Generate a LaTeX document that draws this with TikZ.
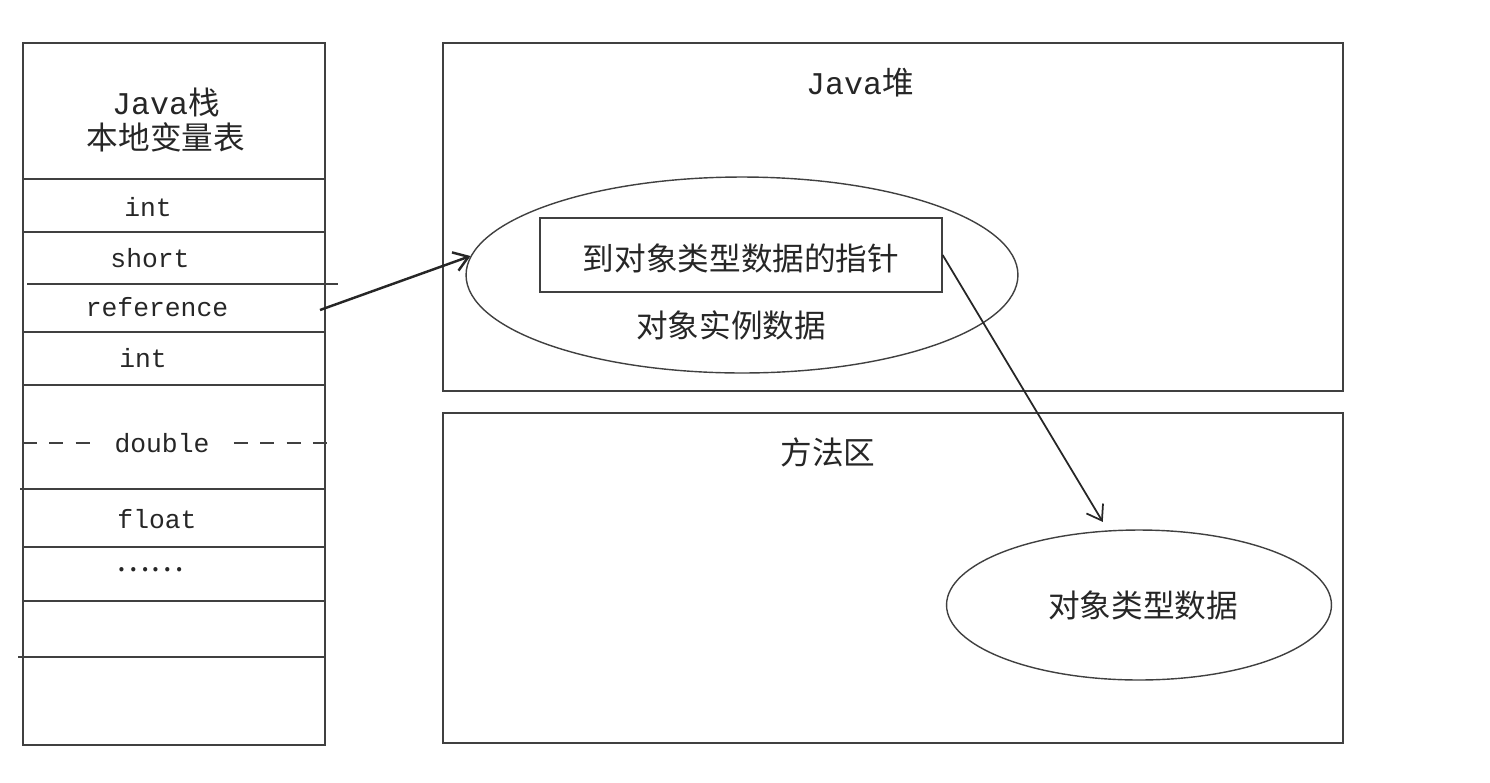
\documentclass[tikz,border=0pt]{standalone}
\usepackage{fontspec}
\setmainfont{Noto Sans CJK SC}
\setmonofont{Liberation Mono}
\usetikzlibrary{shapes.geometric}
\usetikzlibrary{arrows.meta}
\tikzset{
  frame/.style = {draw = black!75, line width = 0.8pt},
  cell/.style = {font = \ttfamily\fontsize{15}{17}\selectfont, text = black!85, inner sep = 1pt},
  cjk/.style = {font = \fontsize{18}{20}\selectfont, text = black!85, inner sep = 1pt},
  arr/.style = {->, >={Straight Barb[length=8pt, width=11pt]}, draw = black!85, line width = 1pt}
}
\begin{document}
\begin{tikzpicture}[x = 0.02cm, y = -0.02cm]
\useasboundingbox (0,0) rectangle (1490,782);
% Java stack
\draw[frame] (23,43) rectangle (325,745);
\foreach \y/\xa/\xb in {179/23/325, 232/23/325, 284/27/338, 332/23/325, 385/23/325,
                        489/20/325, 547/23/325, 601/23/325, 657/18/325}
  \draw[frame] (\xa,\y) -- (\xb,\y);
\draw[frame, dash pattern = on 8pt off 7pt] (23,443) -- (338,443);
\node[cjk, align = center] (stack) at (166,120) {{\ttfamily Java}栈\\本地变量表};
\node[cell] (int1) at (148,207) {int};
\node[cell] (short) at (150,258) {short};
\node[cell] (ref) at (157,307) {reference};
\node[cell] (int2) at (143,358) {int};
\node[cell, fill = white, inner xsep = 8pt] (double) at (162,443) {double};
\node[cell] (float) at (157,519) {float};
\node[cjk] (more) at (150,570) {……};
\coordinate (refout) at (320,310);
% Java heap and method area
\draw[frame] (443,43) rectangle (1343,391);
\draw[frame] (443,413) rectangle (1343,743);
\node[cjk] (heap) at (860,83) {{\ttfamily Java}堆};
\node[cjk] (method) at (828,452) {方法区};
\node[ellipse, frame, minimum width = 11.04cm, minimum height = 3.92cm] (inst) at (742,275) {};
\node[rectangle, frame, minimum width = 8.04cm, minimum height = 1.48cm] (ptr) at (741,255) {};
\node[cjk] (ptrtext) at (741,258) {到对象类型数据的指针};
\node[cjk] (insttext) at (731,325) {对象实例数据};
\node[ellipse, frame, minimum width = 7.7cm, minimum height = 3cm] (cls) at (1139,605) {};
\node[cjk] (clstext) at (1143,605) {对象类型数据};
% references
\draw[arr, line width = 1.4pt] (refout) -- (inst.176);
\draw[arr] (ptr.east) -- ([yshift = 5pt]cls.116);
\end{tikzpicture}
\end{document}
